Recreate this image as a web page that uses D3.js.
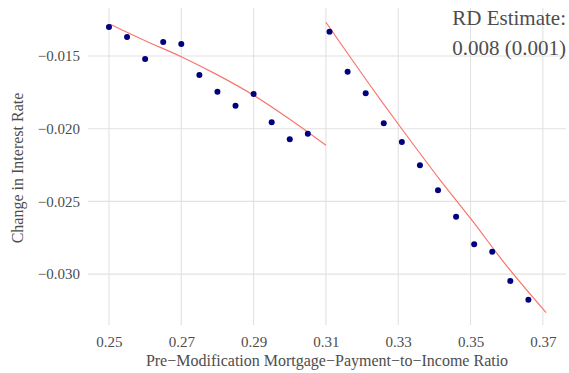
<!DOCTYPE html>
<html>
<head>
<meta charset="utf-8">
<script src="https://cdn.jsdelivr.net/npm/d3@7"></script>
<style>
  body { margin: 0; background: #fff; }
  text { font-family: "Liberation Serif", "Times New Roman", serif; fill: #4d4d4d; }
</style>
</head>
<body>
<div id="chart"></div>
<script>
// Binned means, left of the cutoff
var leftX = [0.250, 0.255, 0.260, 0.265, 0.270, 0.275, 0.280, 0.285, 0.290, 0.295, 0.300, 0.305];
var leftY = [-0.01300, -0.01369, -0.01521, -0.01404, -0.01417, -0.01631, -0.01746, -0.01842, -0.01761, -0.01956, -0.02073, -0.02034];

// Binned means, right of the cutoff
var rightX = [0.311, 0.316, 0.321, 0.326, 0.331, 0.336, 0.341, 0.346, 0.351, 0.356, 0.361, 0.366];
var rightY = [-0.01333, -0.01608, -0.01757, -0.01963, -0.02091, -0.02252, -0.02424, -0.02605, -0.02795, -0.02846, -0.03047, -0.03176];

// Fitted lines
var leftFitX = [0.2503, 0.260, 0.270, 0.280, 0.290, 0.300, 0.310];
var leftFitY = [-0.01282, -0.01395, -0.01505, -0.01630, -0.01770, -0.01935, -0.02114];
var rightFitX = [0.310, 0.325, 0.3305, 0.3416, 0.350, 0.360, 0.3709];
var rightFitY = [-0.01268, -0.01798, -0.01985, -0.02353, -0.02617, -0.02944, -0.03265];

var xTicks = [0.25, 0.27, 0.29, 0.31, 0.33, 0.35, 0.37];
var yTicks = [-0.015, -0.020, -0.025, -0.030];

var width = 569, height = 373;
var panel = {left: 88, right: 566, top: 8, bottom: 325};

var svg = d3.select('#chart').append('svg')
  .attr('width', width)
  .attr('height', height);

var x = d3.scaleLinear().domain([0.2442, 0.3764]).range([panel.left, panel.right]);
var y = d3.scaleLinear().domain([-0.0335, -0.0117]).range([panel.bottom, panel.top]);

// Grid lines
var grid = svg.append('g');
grid.selectAll('.gx').data(xTicks).enter().append('line')
  .attr('x1', function(d) { return x(d); })
  .attr('x2', function(d) { return x(d); })
  .attr('y1', panel.top).attr('y2', panel.bottom)
  .attr('stroke', '#e2e2e2').attr('stroke-width', 1.1);
grid.selectAll('.gy').data(yTicks).enter().append('line')
  .attr('x1', panel.left).attr('x2', panel.right)
  .attr('y1', function(d) { return y(d); })
  .attr('y2', function(d) { return y(d); })
  .attr('stroke', '#e2e2e2').attr('stroke-width', 1.1);

// Axes (labels only)
var fmtY = function(d) { return d3.format('.3f')(d).replace('-', '\u2212'); };
var xAxis = d3.axisBottom(x).tickValues(xTicks).tickFormat(d3.format('.2f')).tickSize(0).tickPadding(11);
var yAxis = d3.axisLeft(y).tickValues(yTicks).tickFormat(fmtY).tickSize(0).tickPadding(8);

var gx = svg.append('g').attr('transform', 'translate(0,' + panel.bottom + ')').call(xAxis);
var gy = svg.append('g').attr('transform', 'translate(' + panel.left + ',0)').call(yAxis);
[gx, gy].forEach(function(g) {
  g.attr('font-family', null);
  g.select('.domain').remove();
  g.selectAll('text').attr('font-size', 15).attr('fill', '#4d4d4d')
    .style('font-family', '"Liberation Serif", serif');
});

// Fitted lines
var line = d3.line().x(function(d) { return x(d[0]); }).y(function(d) { return y(d[1]); })
  .curve(d3.curveMonotoneX);
[[leftFitX, leftFitY], [rightFitX, rightFitY]].forEach(function(s) {
  svg.append('path')
    .datum(d3.zip(s[0], s[1]))
    .attr('d', line)
    .attr('fill', 'none')
    .attr('stroke', '#f8766d')
    .attr('stroke-width', 1.2);
});

// Points
var pts = d3.zip(leftX, leftY).concat(d3.zip(rightX, rightY));
svg.selectAll('.pt').data(pts).enter().append('circle')
  .attr('cx', function(d) { return x(d[0]); })
  .attr('cy', function(d) { return y(d[1]); })
  .attr('r', 3)
  .attr('fill', '#000080');

// Annotation
svg.append('text').attr('x', 566).attr('y', 25).attr('text-anchor', 'end')
  .attr('font-size', 21).text('RD Estimate:');
svg.append('text').attr('x', 566).attr('y', 55).attr('text-anchor', 'end')
  .attr('font-size', 21).text('0.008 (0.001)');

// Axis titles
svg.append('text').attr('x', 327).attr('y', 366)
  .attr('text-anchor', 'middle').attr('font-size', 16)
  .text('Pre\u2212Modification Mortgage\u2212Payment\u2212to\u2212Income Ratio');
svg.append('text')
  .attr('transform', 'translate(23,168) rotate(-90)')
  .attr('text-anchor', 'middle').attr('font-size', 16)
  .text('Change in Interest Rate');
</script>
</body>
</html>
